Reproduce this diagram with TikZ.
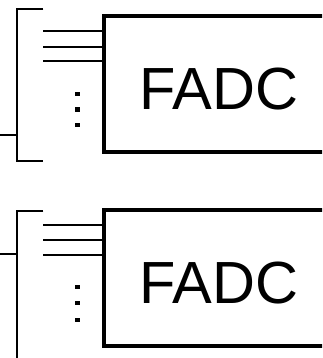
\documentclass[tikz,border=0pt]{standalone}
\usepackage{fontspec}
\setmainfont{Liberation Sans}
\begin{document}
\begin{tikzpicture}[x=1pt,y=-1pt,
  fadcbox/.style={draw,line width=3.8pt,minimum width=240pt,minimum height=136pt,inner sep=0pt},
  fadclabel/.style={inner sep=0pt,anchor=base,font=\fontsize{59.5pt}{60pt}\selectfont},
  brk/.style={line width=1.8pt},
  stub/.style={line width=2.4pt},
  chan/.style={line width=1.7pt},
  vdot/.style={fill=black,draw=none}]
\useasboundingbox (0,0) rectangle (322,358);
\clip (0,0) rectangle (322,358);
% ---------- top block ----------
\node[fadcbox] (box1) at (224,84) {};
\node[fadclabel] (lab1) at (219,109.3) {FADC};
\coordinate (b1t) at (43.3,9);
\coordinate (b1c) at (16.7,9);
\coordinate (b1d) at (16.7,160.7);
\coordinate (b1b) at (43.3,160.7);
\coordinate (s1) at (0,135);
\draw[brk] (b1t) -- (b1c) -- (b1d) -- (b1b);
\draw[stub] (s1) -- (s1 -| b1c);
\foreach \y [count=\i] in {31.3,46.7,61} {
  \coordinate (c1\i) at (43.3,\y);
  \draw[chan] (c1\i) -- (c1\i -| box1.west);
}
\foreach \y in {94.3,109.6,125} {
  \fill[vdot] (75.4,\y-2.1) rectangle (79.6,\y+2.1);
}
% ---------- bottom block ----------
\node[fadcbox] (box2) at (224,278) {};
\node[fadclabel] (lab2) at (219,303) {FADC};
\coordinate (b2t) at (43.3,210.7);
\coordinate (b2c) at (16.7,210.7);
\coordinate (b2d) at (16.7,360);
\coordinate (s2) at (0,253.7);
\draw[brk] (b2t) -- (b2c) -- (b2d);
\draw[stub] (s2) -- (s2 -| b2c);
\foreach \y [count=\i] in {224.7,240,255} {
  \coordinate (c2\i) at (43.3,\y);
  \draw[chan] (c2\i) -- (c2\i -| box2.west);
}
\foreach \y in {287.3,303.3,319.7} {
  \fill[vdot] (75.4,\y-2.1) rectangle (79.6,\y+2.1);
}
\end{tikzpicture}
\end{document}
